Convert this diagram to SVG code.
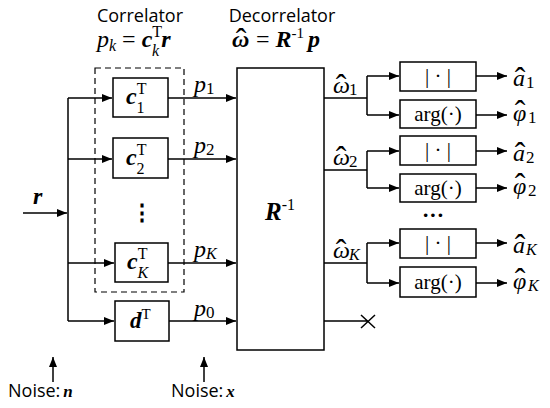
<svg xmlns="http://www.w3.org/2000/svg" width="550" height="408" viewBox="0 0 550 408">
<defs>
<marker id="ah" viewBox="0 0 10 8" refX="10" refY="4" markerWidth="10" markerHeight="8" markerUnits="userSpaceOnUse" orient="auto"><path d="M0,0 L10,4 L0,8 Z" fill="#000"/></marker>
</defs>
<style>
.ln{stroke:#000;stroke-width:1.5;fill:none}
.ar{stroke:#000;stroke-width:1.5;fill:none;marker-end:url(#ah)}
.bx{stroke:#000;stroke-width:1.5;fill:#fff}
.sans{font-family:"Open Sans","Noto Sans",sans-serif;fill:#000}
.m{font-family:"Liberation Serif","Times New Roman",serif;fill:#000}
.bi{font-weight:bold;font-style:italic}
.it{font-style:italic}
.hat{font-size:32px;font-style:normal;font-weight:normal;text-anchor:middle}
.sub{font-size:17px;font-style:normal}
.subk{font-size:16px}
</style>
<rect width="550" height="408" fill="#fff"/>
<g id="titles">
<text class="sans" x="140" y="22" font-size="18" text-anchor="middle">Correlator</text>
<text class="sans" x="282" y="22" font-size="18" text-anchor="middle">Decorrelator</text>
<text class="m" x="97" y="47" font-size="24"><tspan class="it">p</tspan><tspan class="it" font-size="16" dy="4">k</tspan><tspan dy="-4"> = </tspan><tspan class="bi">c</tspan><tspan font-size="16" dy="-10">T</tspan><tspan class="it" font-size="16" dx="-10" dy="19">k</tspan><tspan class="bi" dx="2" dy="-9">r</tspan></text>
<text class="m" font-size="24"><tspan class="bi" x="232" y="47">ω</tspan><tspan class="hat" font-weight="bold" x="241" y="50">ˆ</tspan><tspan x="250" y="47"> = </tspan><tspan class="bi">R</tspan><tspan font-size="15" dy="-9">-1</tspan><tspan class="bi" dx="4" dy="9">p</tspan></text>
</g>
<g id="connectors">
<path class="ar" d="M23,213 H67"/>
<path class="ln" d="M68,98 V321"/>
<path class="ar" d="M68,98 H112"/>
<path class="ar" d="M68,159 H112"/>
<path class="ar" d="M68,263 H114"/>
<path class="ar" d="M68,321 H114"/>
<path class="ar" d="M168,98 H236"/>
<path class="ar" d="M168,159 H236"/>
<path class="ar" d="M168,263 H236"/>
<path class="ar" d="M169,321 H236"/>
<path class="ln" d="M324,98 H367 M367,76 V115"/>
<path class="ar" d="M367,76 H399"/>
<path class="ar" d="M367,115 H399"/>
<path class="ln" d="M324,170 H367 M367,151 V188"/>
<path class="ar" d="M367,151 H399"/>
<path class="ar" d="M367,188 H399"/>
<path class="ln" d="M324,263 H367 M367,243 V283"/>
<path class="ar" d="M367,243 H399"/>
<path class="ar" d="M367,283 H399"/>
<path class="ar" d="M476,76 H507"/>
<path class="ar" d="M476,115 H507"/>
<path class="ar" d="M476,151 H507"/>
<path class="ar" d="M476,188 H507"/>
<path class="ar" d="M476,243 H507"/>
<path class="ar" d="M476,283 H507"/>
<path class="ln" d="M324,321 H368 M361,315 L375,328 M361,328 L375,315"/>
<path class="ar" d="M53,382 V357"/>
<path class="ar" d="M204,382 V357"/>
</g>
<g id="correlator">
<rect x="95" y="68" width="89" height="224" fill="none" stroke="#000" stroke-width="1.2" stroke-dasharray="6,4"/>
</g>
<g id="c1">
<rect class="bx" x="113" y="78" width="55" height="39"/>
<text class="m" x="126" y="104" font-size="24"><tspan class="bi">c</tspan><tspan font-size="16" dy="-10">T</tspan><tspan font-size="16" dx="-10" dy="19">1</tspan></text>
</g>
<g id="c2">
<rect class="bx" x="113" y="138" width="55" height="40"/>
<text class="m" x="126" y="165" font-size="24"><tspan class="bi">c</tspan><tspan font-size="16" dy="-10">T</tspan><tspan font-size="16" dx="-10" dy="19">2</tspan></text>
</g>
<g id="dots1">
<text class="m" x="142" y="220" font-size="22" font-weight="bold" text-anchor="middle">⋮</text>
</g>
<g id="cK">
<rect class="bx" x="115" y="243" width="53" height="39"/>
<text class="m" x="127" y="269" font-size="24"><tspan class="bi">c</tspan><tspan font-size="16" dy="-10">T</tspan><tspan class="it" font-size="16" dx="-10" dy="19">K</tspan></text>
</g>
<g id="d">
<rect class="bx" x="115" y="301" width="54" height="40"/>
<text class="m" x="130" y="328" font-size="23"><tspan class="bi">d</tspan><tspan font-size="15" dy="-9">T</tspan></text>
</g>
<g id="plabels">
<text class="m it" x="194" y="92" font-size="24">p<tspan class="sub" dy="2">1</tspan></text>
<text class="m it" x="194" y="153" font-size="24">p<tspan class="sub" dy="2">2</tspan></text>
<text class="m it" x="194" y="257" font-size="24">p<tspan class="subk" dy="2">K</tspan></text>
<text class="m it" x="194" y="316" font-size="24">p<tspan class="sub" dy="2">0</tspan></text>
<text class="m bi" x="33" y="204" font-size="24">r</text>
</g>
<g id="R">
<rect class="bx" x="237" y="68" width="87" height="282"/>
<text class="m" x="265" y="220" font-size="25"><tspan class="bi">R</tspan><tspan font-size="16" dy="-10">-1</tspan></text>
</g>
<g id="omegas">
<text class="m it" font-size="24"><tspan x="333" y="93">ω</tspan><tspan class="hat" x="341" y="96">ˆ</tspan><tspan class="sub" x="349" y="95">1</tspan></text>
<text class="m it" font-size="24"><tspan x="333" y="165">ω</tspan><tspan class="hat" x="341" y="168">ˆ</tspan><tspan class="sub" x="349" y="167">2</tspan></text>
<text class="m it" font-size="24"><tspan x="333" y="258">ω</tspan><tspan class="hat" x="341" y="261">ˆ</tspan><tspan class="subk" x="349" y="260">K</tspan></text>
</g>
<g id="abs1"><rect class="bx" x="400" y="62" width="76" height="29"/><text class="m" x="438" y="83" font-size="21" text-anchor="middle">| · |</text></g>
<g id="arg1"><rect class="bx" x="400" y="100" width="76" height="28"/><text class="m" x="438" y="121" font-size="21" text-anchor="middle">arg(·)</text></g>
<g id="abs2"><rect class="bx" x="400" y="136" width="76" height="29"/><text class="m" x="438" y="157" font-size="21" text-anchor="middle">| · |</text></g>
<g id="arg2"><rect class="bx" x="400" y="174" width="76" height="28"/><text class="m" x="438" y="195" font-size="21" text-anchor="middle">arg(·)</text></g>
<g id="dots2"><text class="m" x="433" y="222" font-size="22" font-weight="bold" text-anchor="middle">···</text></g>
<g id="absK"><rect class="bx" x="400" y="229" width="76" height="29"/><text class="m" x="438" y="250" font-size="21" text-anchor="middle">| · |</text></g>
<g id="argK"><rect class="bx" x="400" y="267" width="76" height="30"/><text class="m" x="438" y="289" font-size="21" text-anchor="middle">arg(·)</text></g>
<g id="outputs">
<text class="m it" font-size="24"><tspan x="513" y="86">a</tspan><tspan class="hat" x="520" y="89">ˆ</tspan><tspan class="sub" x="526" y="88">1</tspan></text>
<text class="m it" font-size="24"><tspan x="513" y="121">φ</tspan><tspan class="hat" x="520" y="122">ˆ</tspan><tspan class="sub" x="528" y="123">1</tspan></text>
<text class="m it" font-size="24"><tspan x="513" y="161">a</tspan><tspan class="hat" x="520" y="164">ˆ</tspan><tspan class="sub" x="526" y="163">2</tspan></text>
<text class="m it" font-size="24"><tspan x="513" y="194">φ</tspan><tspan class="hat" x="520" y="195">ˆ</tspan><tspan class="sub" x="528" y="196">2</tspan></text>
<text class="m it" font-size="24"><tspan x="513" y="253">a</tspan><tspan class="hat" x="520" y="256">ˆ</tspan><tspan class="subk" x="526" y="255">K</tspan></text>
<text class="m it" font-size="24"><tspan x="513" y="289">φ</tspan><tspan class="hat" x="520" y="290">ˆ</tspan><tspan class="subk" x="528" y="291">K</tspan></text>
</g>
<g id="noise">
<text class="sans" x="8" y="397" font-size="18">Noise:<tspan class="m bi" font-size="17" dx="3">n</tspan></text>
<text class="sans" x="171" y="397" font-size="18">Noise:<tspan class="m bi" font-size="17" dx="3">x</tspan></text>
</g>
</svg>
